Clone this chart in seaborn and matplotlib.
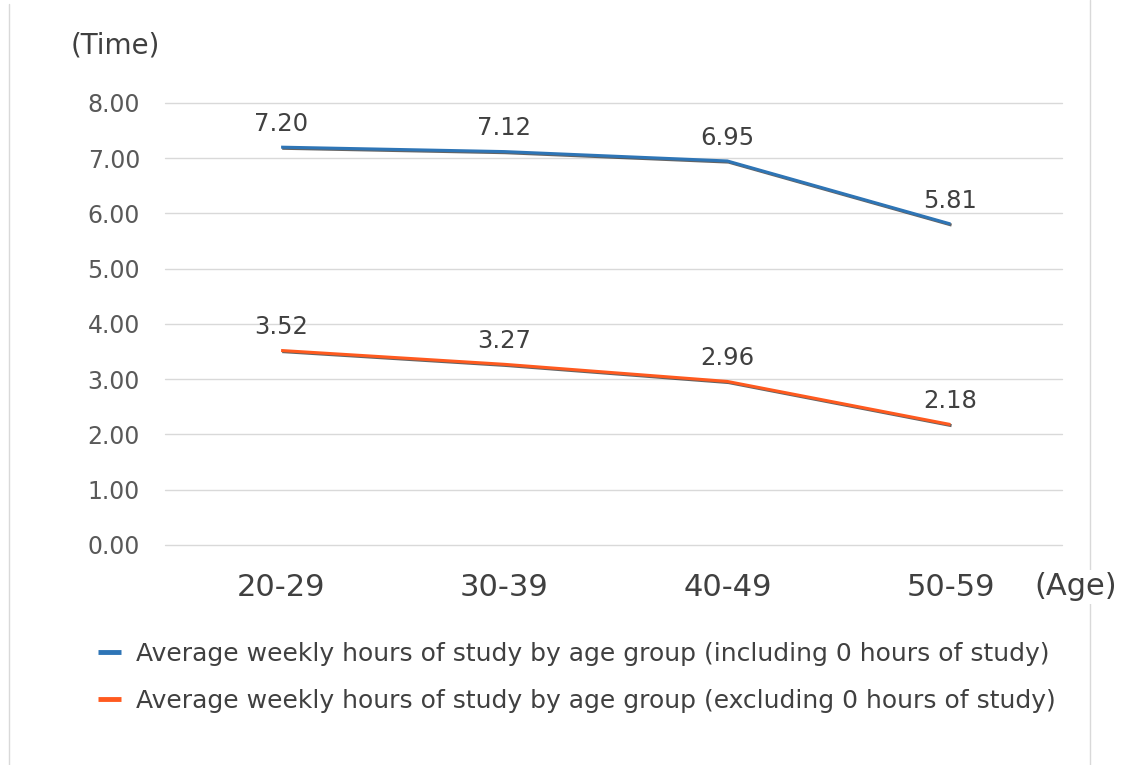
import matplotlib.pyplot as plt
import matplotlib.patheffects as pe
import pandas as pd
import seaborn as sns

age_groups = ["20-29", "30-39", "40-49", "50-59"]
incl_zero = [7.20, 7.12, 6.95, 5.81]
excl_zero = [3.52, 3.27, 2.96, 2.18]
series_names = [
    "Average weekly hours of study by age group (including 0 hours of study)",
    "Average weekly hours of study by age group (excluding 0 hours of study)",
]
colors = ["#2E75B6", "#FF5A1F"]
y_ticks = [0, 1, 2, 3, 4, 5, 6, 7, 8]


def main():
    sns.set_style("white")
    plt.rcParams["font.family"] = ["DejaVu Sans"]

    df = pd.DataFrame({
        "age": age_groups * 2,
        "hours": incl_zero + excl_zero,
        "series": [series_names[0]] * 4 + [series_names[1]] * 4,
    })

    fig = plt.figure(figsize=(11.23, 7.65), dpi=100)
    ax = fig.add_axes([0.147, 0.2876, 0.7987, 0.5778])

    sns.lineplot(data=df, x="age", y="hours", hue="series", palette=colors,
                 linewidth=2.2, ax=ax, legend=False, sort=False)

    # thin dark shadow under each line, like the original
    shadow = [pe.SimpleLineShadow(offset=(0.8, -0.8), shadow_color="#222222", alpha=0.7),
              pe.Normal()]
    for line in ax.lines:
        line.set_path_effects(shadow)
        line.set_solid_capstyle("butt")

    for vals in (incl_zero, excl_zero):
        for i, v in enumerate(vals):
            ax.annotate(f"{v:.2f}", (i, v), xytext=(0, 8), textcoords="offset points",
                        ha="center", va="bottom", fontsize=17.5, color="#404040")

    ax.set_xlim(-0.52, 3.5)
    ax.set_ylim(0, 8)
    ax.set_yticks(y_ticks)
    ax.set_yticklabels([f"{t:.2f}" for t in y_ticks], fontsize=17, color="#595959")
    ax.tick_params(axis="x", labelsize=22, labelcolor="#404040", pad=20, length=0)
    ax.tick_params(axis="y", pad=18, length=0)
    ax.grid(axis="y", color="#D9D9D9", linewidth=1)
    for g in ax.get_ygridlines():
        g.set_clip_on(False)
    ax.set_axisbelow(True)
    for s in ax.spines.values():
        s.set_visible(False)
    ax.set_xlabel("")
    ax.set_ylabel("")

    fig.text(0.103, 0.941, "(Time)", fontsize=20, color="#404040", ha="center", va="center")
    fig.add_artist(plt.Line2D([0.008, 0.008], [0.0, 0.995], color="#D9D9D9", linewidth=1))
    fig.add_artist(plt.Line2D([0.9706, 0.9706], [0.0, 1.0], color="#D9D9D9", linewidth=1))
    fig.text(0.9575, 0.233, "(Age)", fontsize=22, color="#404040", ha="center", va="center",
             bbox=dict(facecolor="white", edgecolor="none", pad=2))

    handles = [plt.Line2D([], [], color=c, linewidth=3.5, solid_capstyle="butt") for c in colors]
    fig.legend(handles, series_names, loc="upper left", bbox_to_anchor=(0.067, 0.19),
               frameon=False, fontsize=18, handlelength=0.95, handletextpad=0.6,
               labelspacing=0.9, labelcolor="#404040")

    fig.savefig("out.png", dpi=100)


if __name__ == "__main__":
    main()
